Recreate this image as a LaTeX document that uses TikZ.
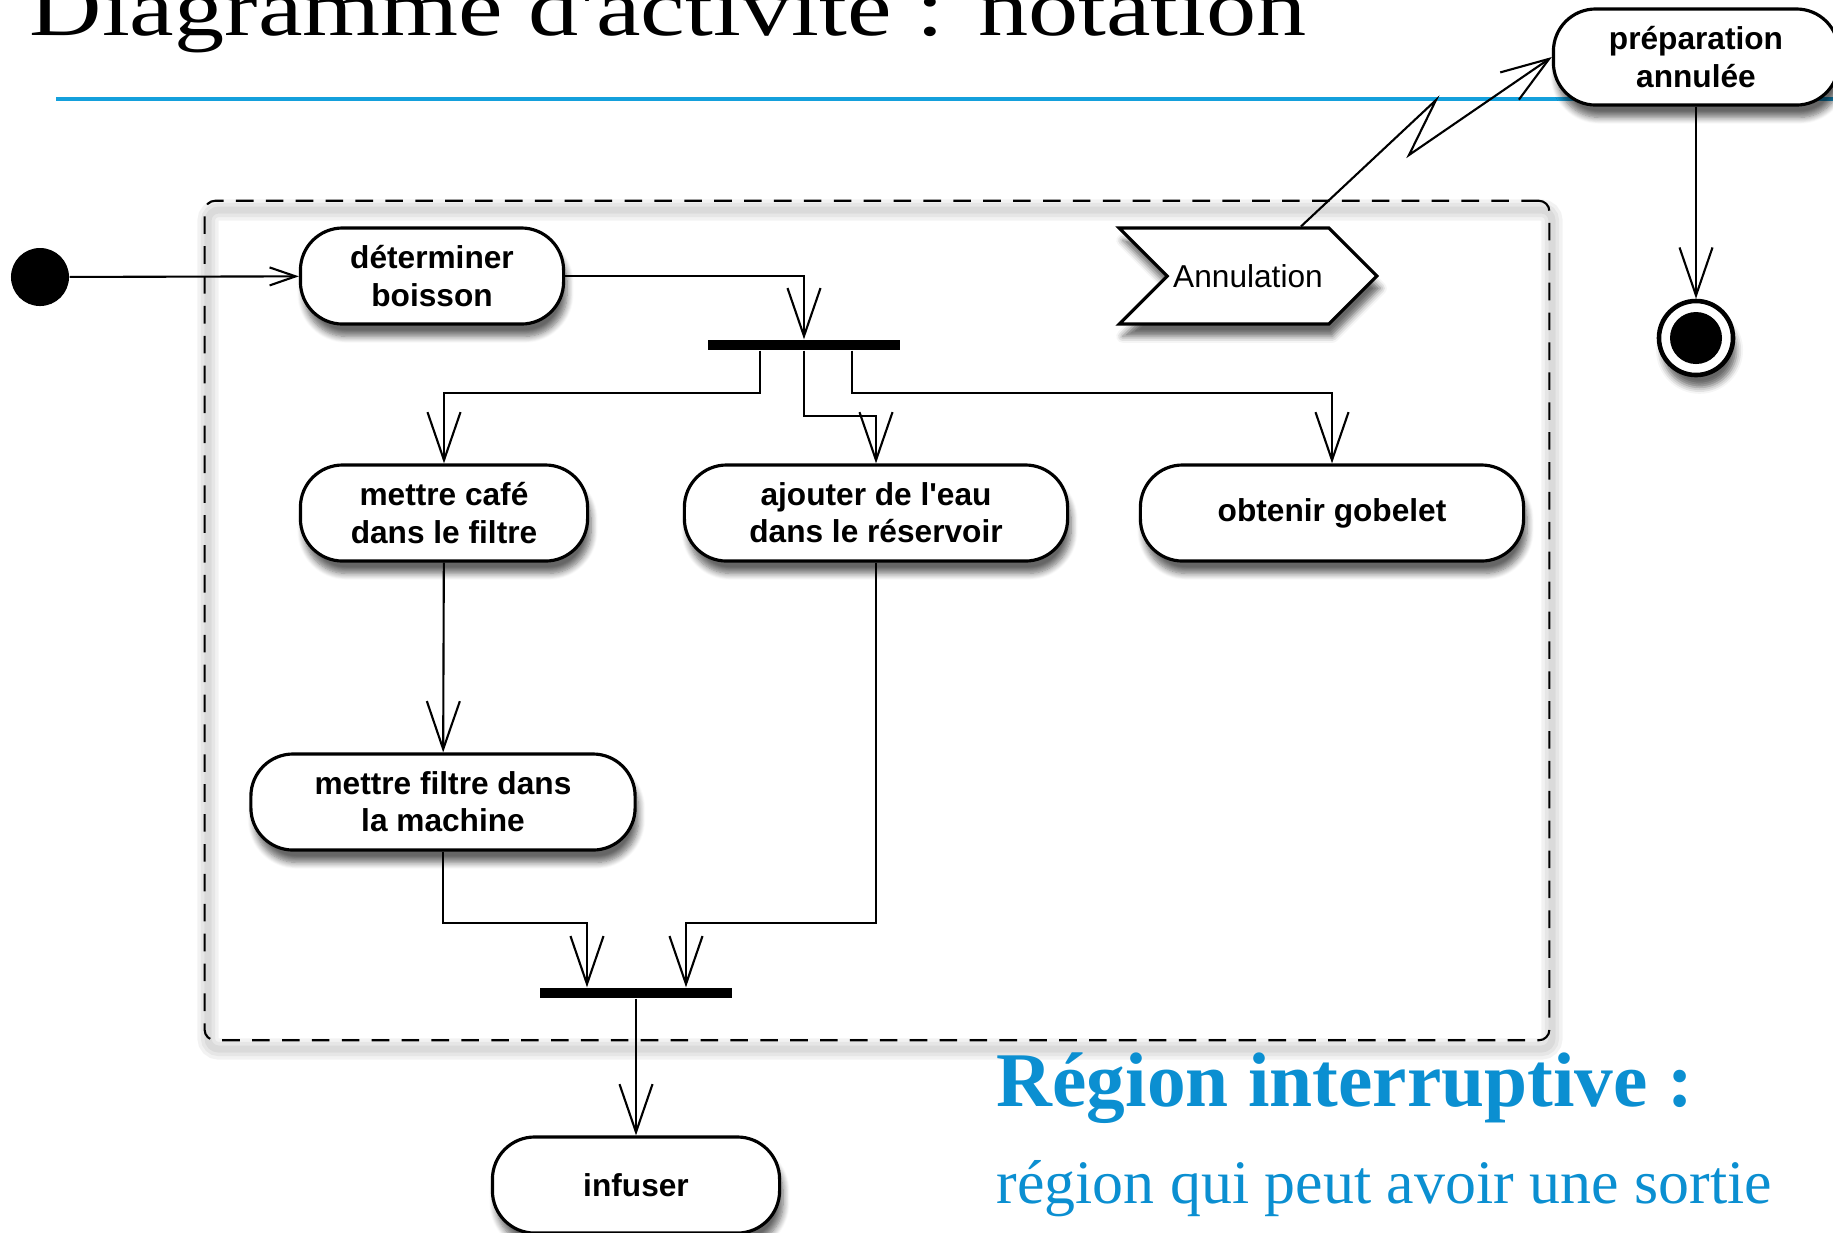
\documentclass[tikz,border=0pt]{standalone}
\usepackage{fontspec}
\setmainfont{Liberation Serif}
\setsansfont{Liberation Sans}
\newfontfamily\titlefont{Liberation Serif}[FakeStretch=1.24]
\usepackage{tikz}
\usetikzlibrary{shapes.symbols,arrows.meta,calc,shadows.blur}
\definecolor{lineblue}{HTML}{14A0DC}
\definecolor{textblue}{HTML}{0B8FD1}

\begin{document}
\begin{tikzpicture}[x=0.01cm,y=-0.01cm,
  act/.style={draw,line width=0.9pt,fill=white,rounded corners=12pt,minimum height=0.96cm,align=center,
    font=\sffamily\bfseries\fontsize{9}{10.6}\selectfont,
    blur shadow={shadow xshift=1pt,shadow yshift=-3.5pt,shadow blur steps=8,shadow opacity=60}},
  bar/.style={fill=black,inner sep=0,minimum width=1.92cm,minimum height=0.1cm},
  flow/.style={-{Straight Barb[length=4.8mm,width=3.3mm]},line width=0.6pt},
  start/.style={-{Straight Barb[length=2.6mm,width=1.8mm]},line width=0.6pt}]
\useasboundingbox (0,0) rectangle (1833,1232);
\node[anchor=base west,inner sep=0,font=\titlefont\fontsize{23}{28}\selectfont] (title) at (29,35) {Diagramme d'activité : notation};
\draw[lineblue,line width=1.15pt] (56,99) -- (1833,99);
\foreach \w in {6,4,2}
  \draw[black,opacity=0.05,line width=\w pt,rounded corners=3pt] (208,210) rectangle (1552,1049);
\node[draw,dash pattern=on 5pt off 3.5pt,line width=0.6pt,rounded corners=3pt,minimum width=13.44cm,minimum height=8.39cm] (zone) at (877,620.5) {};
\foreach \n/\x/\y/\w/\t in {det/432/276/2.63/déterminer\\boisson,cafe/444/513/2.87/mettre café\\dans le filtre,
  eau/876/513/3.83/ajouter de l\textquotesingle eau\\dans le réservoir,gob/1332/513/3.83/obtenir gobelet,
  filtre/443/802/3.84/mettre filtre dans\\la machine,inf/636/1185/2.87/infuser,prep/1696/57/2.85/préparation\\annulée}
  \node[act,minimum width=\w cm] (\n) at (\x,\y) {\t};
\node[signal,signal from=west,signal to=east,draw,fill=white,line width=0.9pt,inner xsep=1.7pt,minimum height=0.96cm,
  font=\sffamily\fontsize{9}{11}\selectfont,blur shadow={shadow xshift=1pt,shadow yshift=-3.5pt,shadow opacity=60}] (annul) at (1248,276) {Annulation};
\node[circle,fill=black,minimum size=0.58cm,inner sep=0] (init) at (40,277) {};
\node[circle,draw,line width=1.3pt,fill=white,minimum size=0.74cm,inner sep=0,
  blur shadow={shadow xshift=1pt,shadow yshift=-3.5pt,shadow opacity=60}] (final) at (1696,338) {};
\node[circle,fill=black,minimum size=0.52cm,inner sep=0] (finaldot) at (final) {};
\node[bar] (fork) at (804,345) {};
\node[bar] (join) at (636,993) {};
\draw[start] (init) -- (det);
\draw[flow] (det.east) -| (fork.north);
\draw[flow] ($(fork.south)+(-44,0)$) -- ++(0,42) -| (cafe.north);
\draw[flow] (fork.south) -- ++(0,65) -| (eau.north);
\draw[flow] ($(fork.south)+(48,0)$) -- ++(0,42) -| (gob.north);
\draw[flow] (cafe) -- (filtre);
\draw[flow] (filtre.south) -- ++(0,71) -| ($(join.north)+(-49,0)$);
\draw[flow] (eau.south) -- ++(0,360) -| ($(join.north)+(50,0)$);
\draw[flow] (join) -- (inf);
\draw[flow] ($(annul.north)+(53,0)$) -- (1436,100) -- (1409,155) -- (prep.west);
\draw[flow] (prep) -- (final);
\node[anchor=base west,inner sep=0,text=textblue,font=\bfseries\fontsize{22}{26}\selectfont] (regtitle) at (996,1106) {Région interruptive :};
\node[anchor=base west,inner sep=0,text=textblue,font=\fontsize{17.6}{21}\selectfont] (regtext) at (996,1203) {région qui peut avoir une sortie};
\end{tikzpicture}
\end{document}
